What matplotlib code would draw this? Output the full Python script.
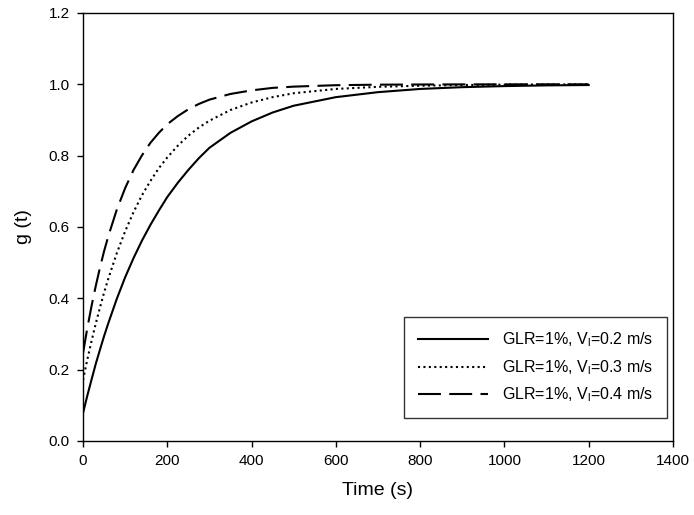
import matplotlib
matplotlib.use("Agg")
import matplotlib.pyplot as plt

plt.rcParams['font.family'] = ['Liberation Sans', 'DejaVu Sans']
plt.rcParams['mathtext.default'] = 'regular'

# time axis (s) and g(t)
time = [0, 10, 20, 30, 40, 50, 60, 80, 100, 120, 140, 160, 180, 200, 225,
        250, 275, 300, 350, 400, 450, 500, 600, 700, 800, 900, 1000, 1100, 1200]
g_02 = [0.078, 0.126, 0.171, 0.215, 0.255, 0.294, 0.330, 0.398, 0.459, 0.513,
        0.562, 0.606, 0.646, 0.684, 0.724, 0.760, 0.793, 0.822, 0.864, 0.896,
        0.921, 0.940, 0.964, 0.978, 0.987, 0.992, 0.995, 0.997, 0.998]
g_03 = [0.171, 0.227, 0.279, 0.328, 0.373, 0.416, 0.455, 0.526, 0.588, 0.642,
        0.689, 0.729, 0.765, 0.795, 0.828, 0.856, 0.879, 0.898, 0.928, 0.949,
        0.964, 0.975, 0.987, 0.993, 0.996, 0.998, 0.999, 0.9995, 0.9998]
g_04 = [0.246, 0.315, 0.377, 0.433, 0.485, 0.532, 0.574, 0.648, 0.709, 0.760,
        0.801, 0.836, 0.864, 0.888, 0.911, 0.930, 0.945, 0.957, 0.973, 0.983,
        0.990, 0.9935, 0.9975, 0.999, 0.9995, 0.9998, 0.9999, 1.0, 1.0]
labels = ['GLR=1%, V$_l$=0.2 m/s', 'GLR=1%, V$_l$=0.3 m/s', 'GLR=1%, V$_l$=0.4 m/s']

fig = plt.figure(figsize=(6.94, 5.15), dpi=100)
ax = fig.add_axes([0.1196, 0.1437, 0.8501, 0.8311])

ax.plot(time, g_02, color='black', lw=1.5, ls='-', label=labels[0])
ax.plot(time, g_03, color='black', lw=1.5, ls=(0, (1, 1.6)), label=labels[1])
ax.plot(time, g_04, color='black', lw=1.5, ls=(0, (11, 4)), label=labels[2])

ax.set_xlim(0, 1400)
ax.set_ylim(0, 1.2)
ax.set_xticks(range(0, 1401, 200))
ax.set_yticks([0.0, 0.2, 0.4, 0.6, 0.8, 1.0, 1.2])
ax.set_yticklabels(['0.0', '0.2', '0.4', '0.6', '0.8', '1.0', '1.2'])
ax.tick_params(direction='out', length=4.5, width=1, labelsize=11, pad=5)
for s in ax.spines.values():
    s.set_linewidth(1)
ax.set_xlabel('Time (s)', fontsize=14, labelpad=10)
ax.set_ylabel('g (t)', fontsize=14, labelpad=12)

leg = ax.legend(loc='lower right', bbox_to_anchor=(0.9898, 0.0537), fontsize=11.5,
                handlelength=4.4, handletextpad=0.9, labelspacing=0.55,
                borderpad=0.85, borderaxespad=0, fancybox=False, framealpha=1)
leg.get_frame().set_edgecolor('#333333')
leg.get_frame().set_linewidth(1)

fig.savefig('out.png', dpi=100)
